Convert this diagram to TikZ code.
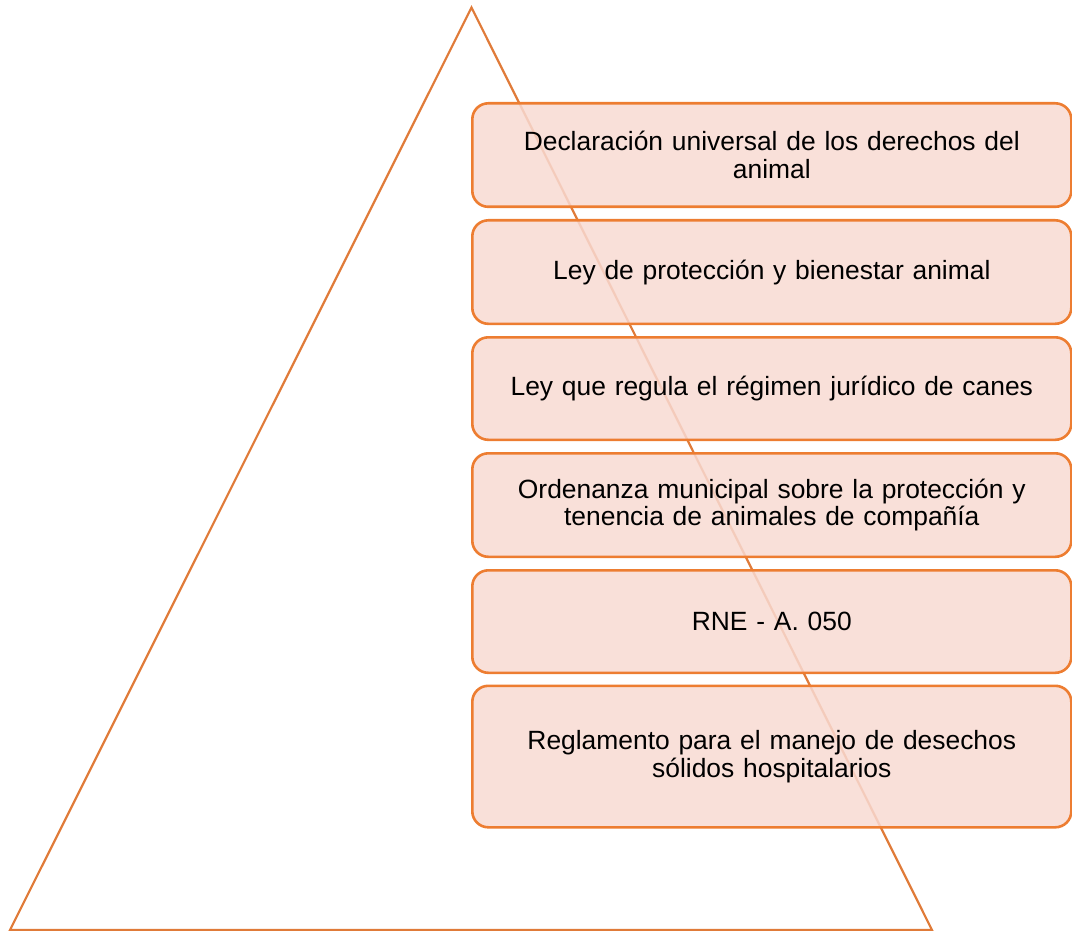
\documentclass[tikz,border=0pt]{standalone}
\usepackage{fontspec}
\setmainfont{Liberation Sans}
\definecolor{triline}{HTML}{E07B39}
\definecolor{boxline}{HTML}{ED7D31}
\definecolor{boxfill}{HTML}{F8DAD2}
\tikzset{
  lawbox/.style={draw=boxline, line width=2.6pt, fill=boxfill, fill opacity=0.85, text opacity=1,
    rounded corners=16pt, minimum width=599pt, align=center, text width=590pt,
    font=\fontsize{26.4}{27.5}\selectfont, inner sep=0pt},
  tri/.style={draw=triline, line width=2.2pt, line join=miter}
}
\begin{document}
\begin{tikzpicture}[x=1pt,y=-1pt]
\useasboundingbox (0,0) rectangle (1072,931);
\coordinate (apex) at (471.5,7.5);
\coordinate (bl) at (10,930);
\coordinate (br) at (932,930);
\draw[tri] (bl) -- (apex) -- (br) -- cycle;
\node[lawbox, minimum height=103.5pt, anchor=north west] (b1) at (471,102) {Declaración universal de los derechos del\\animal};
\node[lawbox, minimum height=103.5pt, anchor=north west] (b2) at (471,219) {Ley de protección y bienestar animal};
\node[lawbox, minimum height=102.5pt, anchor=north west] (b3) at (471,336) {Ley que regula el régimen jurídico de canes};
\node[lawbox, minimum height=103.5pt, anchor=north west] (b4) at (471,452) {Ordenanza municipal sobre la protección y\\tenencia de animales de compañía};
\node[lawbox, minimum height=102.5pt, anchor=north west] (b5) at (471,569) {RNE - A. 050};
\node[lawbox, minimum height=141.5pt, anchor=north west] (b6) at (471,684.5) {Reglamento para el manejo de desechos\\sólidos hospitalarios};
\end{tikzpicture}
\end{document}
